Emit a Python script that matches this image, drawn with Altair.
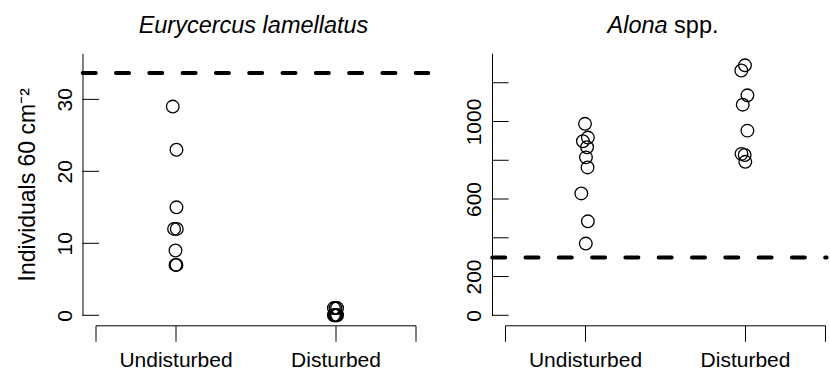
import altair as alt
import pandas as pd

FONT = "Liberation Sans"

groups = ["Undisturbed", "Disturbed"]
group_pos = [1, 2]
x_ticks = [0.5, 1, 2, 2.5]

# Eurycercus lamellatus (x = group position as read, incl. horizontal jitter)
eury_x = [0.983, 1.006, 1.006, 0.991, 1.008, 1.000, 1.000, 1.006,
          1.990, 2.000, 2.010, 1.990, 2.000, 2.010, 1.995, 2.005]
eury_y = [29, 23, 15, 12, 12, 9, 7, 7,
          1, 1, 1, 0, 0, 0, 0, 0]
eury_ref = 33.65
eury_yticks = [0, 10, 20, 30]
eury_ylabels = [0, 10, 20, 30]
eury_ymax = 36.4

# Alona spp.
alona_x = [1.000, 1.018, 0.987, 1.013, 1.006, 1.016, 0.977, 1.018, 1.005,
           2.000, 1.977, 2.015, 1.986, 2.015, 1.978, 1.998, 2.002]
alona_y = [988, 917, 898, 867, 815, 763, 629, 485, 370,
           1290, 1263, 1135, 1087, 953, 833, 827, 792]
alona_ref = 298
alona_yticks = [0, 200, 400, 600, 800, 1000, 1200]
alona_ylabels = [0, 200, 600, 1000]
alona_ymax = 1352

y_title = "Individuals 60 cm\u207b\u00b2"

W, H = 320, 262


def panel(xs, ys, ymax, yticks, ylabels, ref, ref_end, ytitle, title_parts):
    pts = pd.DataFrame({"x": xs, "y": ys})
    xscale = alt.Scale(domain=[0.5, 2.5], nice=False, zero=False)
    yscale = alt.Scale(domain=[0, ymax], nice=False, zero=False)
    label_expr = " : ".join(
        f"datum.value == {p} ? '{g}'" for p, g in zip(group_pos, groups)
    ) + " : ''"
    xaxis = alt.Axis(
        values=x_ticks, labelExpr=label_expr, offset=10, tickSize=16,
        labelPadding=25, labelBaseline="alphabetic", labelFontSize=21,
        labelOverlap=False, labelFlush=False, title=None, grid=False,
        domainColor="black", tickColor="black", labelColor="black",
        domainWidth=1, tickWidth=1, labelFont=FONT,
    )
    ykw = dict(
        values=ylabels, format="d", offset=13, ticks=False, labelAngle=270,
        labelAlign="center", labelBaseline="alphabetic", labelPadding=11,
        labelFontSize=21, labelOverlap=False, labelFlush=False, grid=False,
        domainColor="black", labelColor="black", domainWidth=1,
        labelFont=FONT,
    )
    if ytitle:
        ykw.update(
            title=ytitle, titleX=-48, titleY=H / 2, titleAngle=270,
            titleAlign="center", titleBaseline="alphabetic", titleFontSize=23,
            titleFontWeight="normal", titleFont=FONT, titleColor="black",
        )
    else:
        ykw.update(title=None)
    yaxis = alt.Axis(**ykw)

    points = alt.Chart(pts).mark_point(
        shape="circle", filled=False, size=160, strokeWidth=1.3,
        color="black", opacity=1,
    ).encode(
        x=alt.X("x:Q", scale=xscale, axis=xaxis),
        y=alt.Y("y:Q", scale=yscale, axis=yaxis),
    )
    ticks = alt.Chart(pd.DataFrame({"t": yticks})).mark_rule(
        color="black", strokeWidth=1
    ).encode(
        y=alt.Y("t:Q", scale=yscale, axis=yaxis),
        x=alt.value(-13), x2=alt.value(3.6),
    )
    dash = alt.Chart(
        pd.DataFrame({"y": [ref], "x0": [0.42], "x1": [ref_end]})
    ).mark_rule(
        color="black", strokeWidth=4, strokeDash=[13, 20.3], strokeCap="round"
    ).encode(
        y=alt.Y("y:Q", scale=yscale, axis=yaxis),
        x=alt.X("x0:Q", scale=xscale, axis=xaxis),
        x2="x1:Q",
    )
    titles = []
    for text, style, align, xpos in title_parts:
        titles.append(
            alt.Chart(pd.DataFrame({"t": [text]})).mark_text(
                font=FONT, fontSize=23.5, fontStyle=style, align=align,
                baseline="alphabetic", color="black",
            ).encode(text="t:N", x=alt.value(xpos), y=alt.value(-20))
        )
    return alt.layer(points, dash, ticks, *titles).properties(width=W, height=H)


left = panel(eury_x, eury_y, eury_ymax, eury_yticks, eury_ylabels, eury_ref,
             2.58, y_title,
             [("Eurycercus lamellatus", "italic", "center", 158)])
right = panel(alona_x, alona_y, alona_ymax, alona_yticks, alona_ylabels,
              alona_ref, 2.51, None,
              [("Alona", "italic", "right", 162.6),
               ("spp.", "normal", "left", 169.1)])

chart = alt.hconcat(left, right, spacing=89.5, bounds="flush").properties(
    padding={"left": 15.5, "top": 14.3, "right": 0, "bottom": 0}
).configure(font=FONT, view=alt.ViewConfig(stroke=None))

chart.save("out.html", embed_options={"renderer": "svg", "actions": False})
